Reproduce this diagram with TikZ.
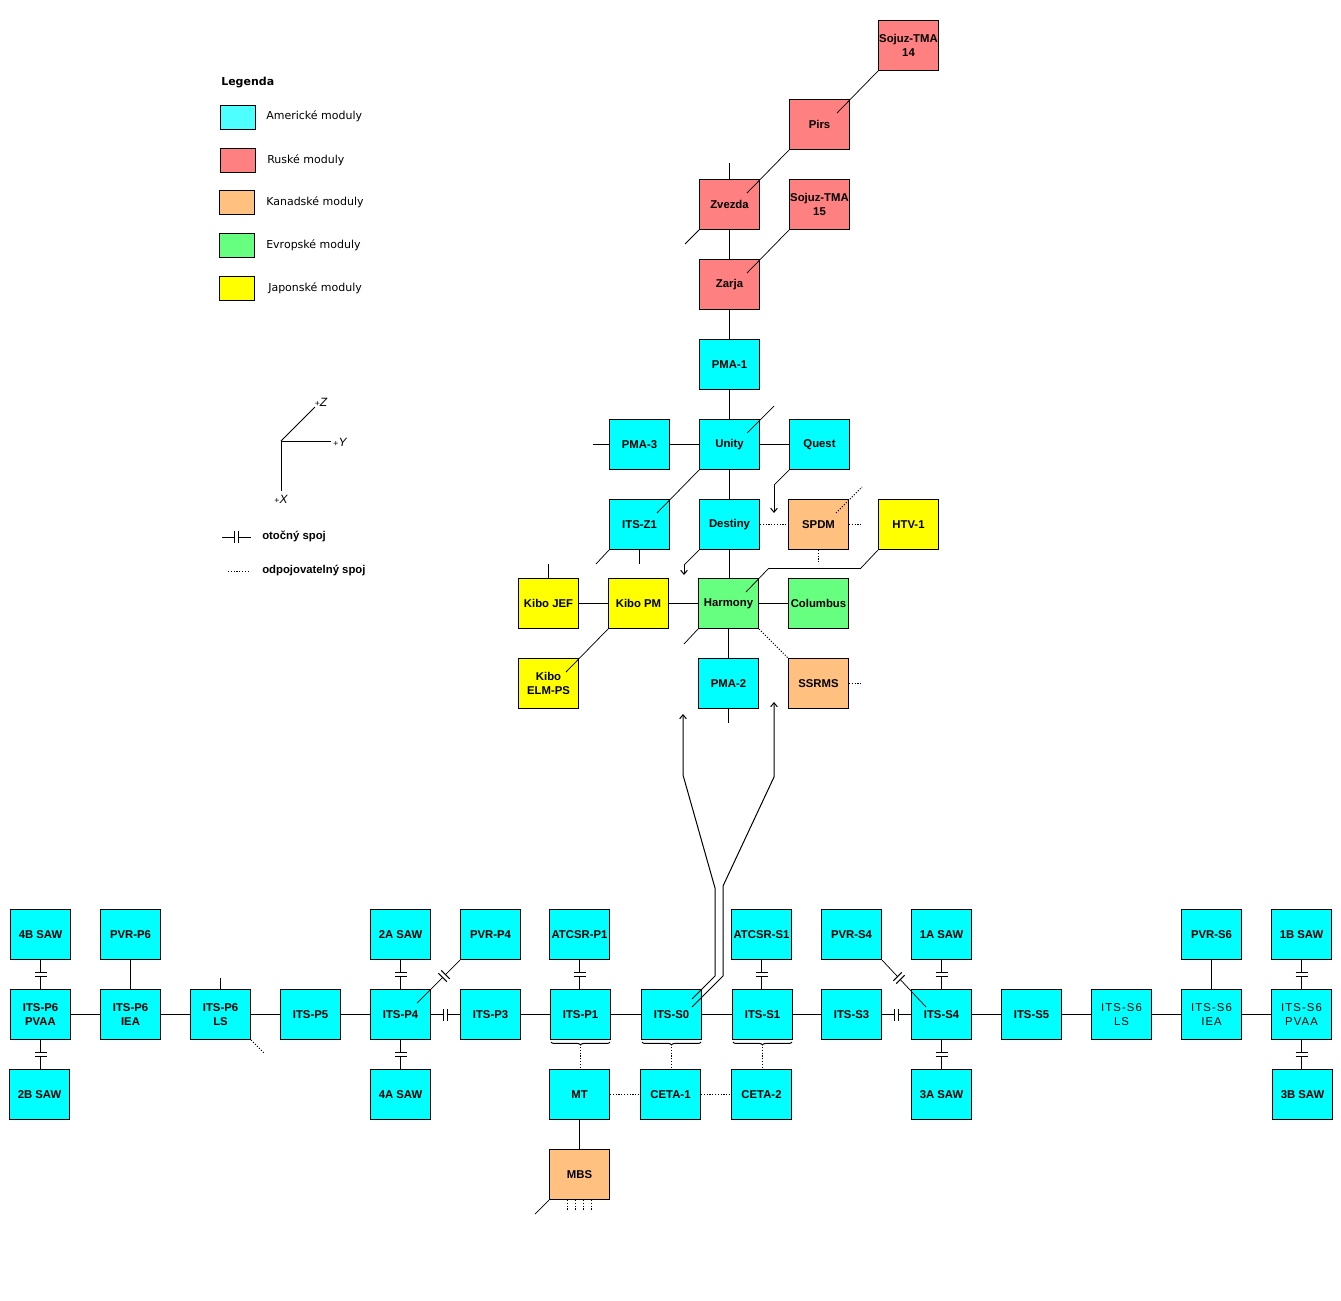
\documentclass[tikz,border=0pt]{standalone}
\usepackage{fontspec}
\setmainfont{Liberation Sans}
\newfontfamily\dvfont{DejaVu Sans}
\newfontfamily\lsfont[LetterSpace=10]{Liberation Sans}
\usetikzlibrary{arrows.meta,calc,decorations.pathreplacing}
\definecolor{amer}{HTML}{00FFFF}
\definecolor{amerL}{HTML}{4DFFFF}
\definecolor{rus}{HTML}{FF8080}
\definecolor{kan}{HTML}{FFC080}
\definecolor{evr}{HTML}{66FF80}
\definecolor{jap}{HTML}{FFFF00}
\tikzset{
 mod/.style={draw, line width=0.75pt, minimum width=45pt, minimum height=37.5pt, inner sep=0pt, anchor=north west, align=center, font=\fontsize{8.5}{10.5}\selectfont\bfseries},
 us/.style={mod, fill=amer}, ru/.style={mod, fill=rus}, ca/.style={mod, fill=kan},
 eu/.style={mod, fill=evr}, jp/.style={mod, fill=jap},
 s6/.style={us, font=\fontsize{8.5}{10.5}\lsfont},
 ln/.style={line width=0.75pt},
 dg/.style={line width=0.55pt},
 dt/.style={line width=0.75pt, dash pattern=on 0.9pt off 1.2pt},
 arr/.style={-{Straight Barb[length=3pt,width=5pt]}},
 legbox/.style={draw, line width=0.75pt, minimum width=26.25pt, minimum height=18pt, inner sep=0pt, anchor=north west},
 legtxt/.style={anchor=west, inner sep=0pt, font=\fontsize{8.25}{10}\dvfont},
 legb/.style={anchor=west, inner sep=0pt, font=\fontsize{8.5}{10}\selectfont\bfseries},
 axl/.style={inner sep=0pt, font=\fontsize{9}{10}\selectfont\itshape},
 brc/.style={ln, decorate, decoration={brace, mirror, amplitude=2.2pt}},
}
\newcommand\jointR[2]{\begin{scope}[shift={#1}, rotate=#2]
 \fill[white] (-5,-1.5) rectangle (5,1.5);
 \draw[ln] (-6,-2) -- (6,-2) (-6,2) -- (6,2);
\end{scope}}
\newcommand\axplus{{\fontsize{6.5}{7}\selectfont\upshape+}}
\begin{document}
\begin{tikzpicture}[x=0.75pt,y=-0.75pt]
\useasboundingbox (0,0) rectangle (1341,1300);
% ---------- legend ----------
\node[anchor=west, inner sep=0pt, font=\fontsize{8.25}{10}\dvfont\bfseries] (leg) at (221,82.5) {Legenda};
\node[legbox, fill=amerL] (lb1) at (220,105) {};
\node[legbox, fill=rus] (lb2) at (220,148) {};
\node[legbox, fill=kan] (lb3) at (219,190) {};
\node[legbox, fill=evr] (lb4) at (219,233) {};
\node[legbox, fill=jap] (lb5) at (219,276) {};
\node[legtxt] (lt1) at (266,116.5) {Americké moduly};
\node[legtxt] (lt2) at (267,160.5) {Ruské moduly};
\node[legtxt] (lt3) at (266,202.5) {Kanadské moduly};
\node[legtxt] (lt4) at (266,245.5) {Evropské moduly};
\node[legtxt] (lt5) at (268,288.5) {Japonské moduly};
% axes
\coordinate (ao) at (281,441);
\coordinate (ay) at (331,441);
\coordinate (ax) at (281,491);
\coordinate (az) at (315,407);
\draw[ln] (ao) -- (ay);
\draw[ln] (ao) -- (ax);
\draw[dg] (ao) -- (az);
\node[axl] (lz) at (321,402) {\axplus Z};
\node[axl] (ly) at (340,442) {\axplus Y};
\node[axl] (lx) at (281,499) {\axplus X};
% legend line symbols
\coordinate (j0a) at (222,537);
\coordinate (j0b) at (251,537);
\draw[ln] (j0a) -- (j0b);
\jointR{(236.5,537)}{90}
\node[legb] (lj) at (262,536) {otočný spoj};
\coordinate (d0a) at (228,571);
\coordinate (d0b) at (250,571);
\draw[dt] (d0a) -- (d0b);
\node[legb] (ld) at (262,571) {odpojovatelný spoj};
% ---------- upper modules ----------
\node[ru] (s14) at (878,20) {Sojuz-TMA\\14};
\node[ru] (pirs) at (789,99) {Pirs};
\node[ru] (zvezda) at (699,179) {Zvezda};
\node[ru] (s15) at (789,179) {Sojuz-TMA\\15};
\node[ru] (zarja) at (699,259) {Zarja};
\node[us] (pma1) at (699,339) {PMA-1};
\node[us] (unity) at (699,419) {Unity};
\node[us] (pma3) at (609,419) {PMA-3};
\node[us] (quest) at (789,419) {Quest};
\node[us] (z1) at (609,499) {ITS-Z1};
\node[us] (destiny) at (699,499) {Destiny};
\node[ca] (spdm) at (788,499) {SPDM};
\node[jp] (htv) at (878,499) {HTV-1};
\node[jp] (kibojef) at (518,578) {Kibo JEF};
\node[jp] (kibopm) at (608,578) {Kibo PM};
\node[eu] (harmony) at (698,578) {Harmony};
\node[eu] (columbus) at (788,578) {Columbus};
\node[jp] (elm) at (518,658) {Kibo\\ELM-PS};
\node[us] (pma2) at (698,658) {PMA-2};
\node[ca] (ssrms) at (788,658) {SSRMS};
% upper connectors
\draw[dg] (s14.south west) -- ($(pirs.north east)+(-13,14)$);
\draw[dg] (pirs.south west) -- ($(zvezda.north east)+(-13,14)$);
\draw[dg] (zvezda.south west) -- ++(-14,14);
\draw[ln] (zvezda.north) -- ++(0,-16);
\draw[ln] (zvezda.south) -- (zarja.north);
\draw[dg] (s15.south west) -- ($(zarja.north east)+(-13,14)$);
\draw[ln] (zarja.south) -- (pma1.north);
\draw[ln] (pma1.south) -- (unity.north);
\draw[dg] ($(unity.north east)+(-13,14)$) -- ++(27,-27);
\draw[ln] (pma3.west) -- ++(-16,0);
\draw[ln] (pma3.east) -- (unity.west);
\draw[ln] (unity.east) -- (quest.west);
\draw[dg] (unity.south west) -- ($(z1.north east)+(-13,14)$);
\draw[ln] (unity.south) -- (destiny.north);
\draw[dg] (quest.south west) -- ++(-15,15) coordinate (qa);
\draw[ln,arr] (qa) -- ++(0,28);
\draw[dt] (destiny.east) -- (spdm.west);
\draw[dt] ($(spdm.north east)+(-13,14)$) -- ++(26,-26);
\draw[dt] (spdm.east) -- ++(13,0);
\draw[dt] (spdm.south) -- ++(0,14);
\draw[dg] (htv.south west) -- ++(-17,18) coordinate (h1);
\draw[ln] (h1) -- ++(-92,0) coordinate (h2);
\draw[dg] (h2) -- ($(harmony.north east)+(-13,14)$);
\draw[dg] (z1.south west) -- ++(-13,14);
\draw[ln] (z1.south) -- ++(0,14);
\draw[dg] (destiny.south west) -- ++(-15,15) coordinate (da);
\draw[ln,arr] (da) -- ++(0,10);
\draw[ln] (destiny.south) -- (destiny.south |- harmony.north);
\draw[ln] (kibojef.north) -- ++(0,-14);
\draw[ln] (kibojef.east) -- (kibopm.west);
\draw[ln] (kibopm.east) -- (harmony.west);
\draw[ln] (harmony.east) -- (columbus.west);
\draw[dg] (kibopm.south west) -- ($(elm.north east)+(-13,14)$);
\draw[dg] (harmony.south west) -- ++(-14,15);
\draw[dt] (harmony.south east) -- (ssrms.north west);
\draw[ln] (harmony.south) -- (pma2.north);
\draw[dt] (ssrms.east) -- ++(13,0);
\draw[ln] (pma2.south) -- ++(0,14);
% ---------- truss ----------
\node[us] (saw4b) at (10,909) {4B SAW};
\node[us] (pvrp6) at (100,909) {PVR-P6};
\node[us] (pvaap) at (10,989) {ITS-P6\\PVAA};
\node[us] (ieap) at (100,989) {ITS-P6\\IEA};
\node[us] (lsp) at (190,989) {ITS-P6\\LS};
\node[us] (saw2b) at (9,1069) {2B SAW};
\node[us] (p5) at (280,989) {ITS-P5};
\node[us] (saw2a) at (370,909) {2A SAW};
\node[us] (pvrp4) at (460,909) {PVR-P4};
\node[us] (p4) at (370,989) {ITS-P4};
\node[us] (p3) at (460,989) {ITS-P3};
\node[us] (saw4a) at (370,1069) {4A SAW};
\node[us] (atcsrp1) at (549,909) {ATCSR-P1};
\node[us] (p1) at (550,989) {ITS-P1};
\node[us] (mt) at (549,1069) {MT};
\node[ca] (mbs) at (549,1149) {MBS};
\node[us] (s0) at (641,989) {ITS-S0};
\node[us] (ceta1) at (640,1069) {CETA-1};
\node[us] (atcsrs1) at (731,909) {ATCSR-S1};
\node[us] (s1) at (732,989) {ITS-S1};
\node[us] (ceta2) at (731,1069) {CETA-2};
\node[us] (pvrs4) at (821,909) {PVR-S4};
\node[us] (s3) at (821,989) {ITS-S3};
\node[us] (saw1a) at (911,909) {1A SAW};
\node[us] (s4) at (911,989) {ITS-S4};
\node[us] (saw3a) at (911,1069) {3A SAW};
\node[us] (s5) at (1001,989) {ITS-S5};
\node[s6] (lss) at (1091,989) {ITS-S6\\LS};
\node[us] (pvrs6) at (1181,909) {PVR-S6};
\node[s6] (ieas) at (1181,989) {ITS-S6\\IEA};
\node[us] (saw1b) at (1271,909) {1B SAW};
\node[s6] (pvaas) at (1271,989) {ITS-S6\\PVAA};
\node[us] (saw3b) at (1272,1069) {3B SAW};
% horizontal truss line
\draw[ln] (pvaap.east) -- (ieap.west);
\draw[ln] (ieap.east) -- (lsp.west);
\draw[ln] (lsp.east) -- (p5.west);
\draw[ln] (p5.east) -- (p4.west);
\draw[ln] (p4.east) -- (p3.west);
\jointR{($(p4.east)!0.5!(p3.west)$)}{90}
\draw[ln] (p3.east) -- (p1.west);
\draw[ln] (p1.east) -- (s0.west);
\draw[ln] (s0.east) -- (s1.west);
\draw[ln] (s1.east) -- (s3.west);
\draw[ln] (s3.east) -- (s4.west);
\jointR{($(s3.east)!0.5!(s4.west)$)}{90}
\draw[ln] (s4.east) -- (s5.west);
\draw[ln] (s5.east) -- (lss.west);
\draw[ln] (lss.east) -- (ieas.west);
\draw[ln] (ieas.east) -- (pvaas.west);
% vertical attachments
\draw[ln] (saw4b.south) -- (pvaap.north);
\jointR{($(saw4b.south)!0.5!(pvaap.north)$)}{0}
\draw[ln] (pvaap.south) -- (pvaap.south |- saw2b.north);
\jointR{($(pvaap.south)!0.5!(pvaap.south |- saw2b.north)$)}{0}
\draw[ln] (pvrp6.south) -- (ieap.north);
\draw[ln] (lsp.north) -- ++(0,-11);
\draw[dt] (lsp.south east) -- ++(13,13);
\draw[ln] (saw2a.south) -- (p4.north);
\jointR{($(saw2a.south)!0.5!(p4.north)$)}{0}
\draw[ln] (p4.south) -- (saw4a.north);
\jointR{($(p4.south)!0.5!(saw4a.north)$)}{0}
\draw[dg] (pvrp4.south west) -- ($(p4.north east)+(-14,14)$);
\jointR{($(pvrp4.south west)+(-16,16)$)}{-45}
\draw[ln] (atcsrp1.south) -- (atcsrp1.south |- p1.north);
\jointR{($(atcsrp1.south)!0.5!(atcsrp1.south |- p1.north)$)}{0}
\draw[ln] (atcsrs1.south) -- (atcsrs1.south |- s1.north);
\jointR{($(atcsrs1.south)!0.5!(atcsrs1.south |- s1.north)$)}{0}
\draw[dg] (pvrs4.south east) -- ($(s4.north west)+(15,18)$);
\jointR{($(pvrs4.south east)+(17,18)$)}{45}
\draw[ln] (saw1a.south) -- (s4.north);
\jointR{($(saw1a.south)!0.5!(s4.north)$)}{0}
\draw[ln] (s4.south) -- (saw3a.north);
\jointR{($(s4.south)!0.5!(saw3a.north)$)}{0}
\draw[ln] (pvrs6.south) -- (ieas.north);
\draw[ln] (saw1b.south) -- (pvaas.north);
\jointR{($(saw1b.south)!0.5!(pvaas.north)$)}{0}
\draw[ln] (pvaas.south) -- (pvaas.south |- saw3b.north);
\jointR{($(pvaas.south)!0.5!(pvaas.south |- saw3b.north)$)}{0}
% braces and MT / CETA rails
\draw[brc] ($(p1.south west)+(1,2)$) -- ($(p1.south east)+(-1,2)$);
\draw[brc] ($(s0.south west)+(1,2)$) -- ($(s0.south east)+(-1,2)$);
\draw[brc] ($(s1.south west)+(1,2)$) -- ($(s1.south east)+(-1,2)$);
\draw[dt] ($(p1.south)+(0,7)$) -- (p1.south |- mt.north);
\draw[dt] ($(s0.south)+(0,7)$) -- (s0.south |- ceta1.north);
\draw[dt] ($(s1.south)+(0,7)$) -- (s1.south |- ceta2.north);
\draw[dt] (mt.east) -- (ceta1.west);
\draw[dt] (ceta1.east) -- (ceta2.west);
\draw[ln] (mt.south) -- (mbs.north);
\draw[dg] (mbs.south west) -- ++(-14,14);
\foreach \xx in {18,26.5,34.5,42}{
  \draw[dt] ($(mbs.south west)+(\xx,0)$) -- ++(0,10);
}
% arrows from ITS-S0 up to the modules
\coordinate (a1) at ($(s0.north west)+(51,10)$);
\coordinate (a2) at ($(s0.north west)+(51,18)$);
\coordinate (e1) at (683,714);
\coordinate (e2) at (774,702);
\draw[ln,arr] (a1) -- (715,976) -- (715,888) -- (683,775) -- (e1);
\draw[ln,arr] (a2) -- (723,976) -- (723,886) -- (774,777) -- (e2);
\end{tikzpicture}
\end{document}
